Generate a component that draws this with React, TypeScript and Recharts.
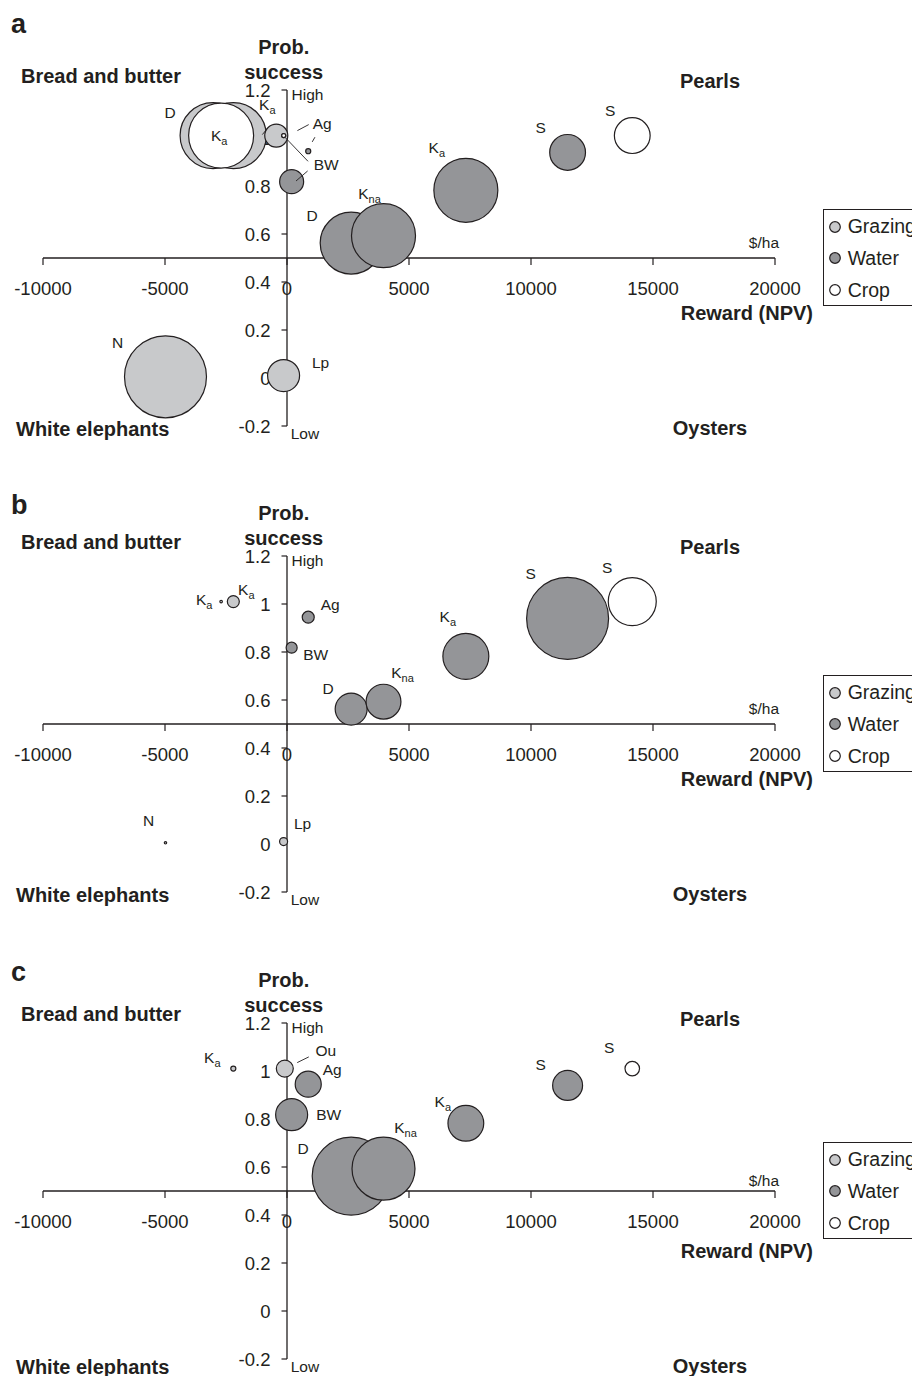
import React from 'react';
import { ScatterChart, Scatter, XAxis, YAxis, ZAxis, ReferenceLine, ReferenceDot, Legend } from 'recharts';

const INK = '#231f20';
const FONT = '"Liberation Sans", Arial, Helvetica, sans-serif';
const FILLS: Record<string, string> = { Grazing: '#c8c9cb', Water: '#949598', Crop: '#ffffff' };
const SERIES = ['Grazing', 'Water', 'Crop'];

// axes
const xTicks = [-10000, -5000, 0, 5000, 10000, 15000, 20000];
const yTicks = [-0.2, 0, 0.2, 0.4, 0.6, 0.8, 1, 1.2];

// grazing options: NPV ($/ha), probability of success, bubble size per panel
const grazingNames = ['D', 'Ka', '', 'Ou', 'N', 'Lp'];
const grazingNpv = [-3030, -2200, -440, -90, -4980, -140];
const grazingProb = [1.01, 1.01, 1.01, 1.01, 0.005, 0.01];
const grazingSizeA = [68, 68, 8.3, null, 105, 16];
const grazingSizeB = [null, 2.25, null, null, 0.09, 1];
const grazingSizeC = [null, 0.4, null, 4.5, null, null];

// water options
const waterNames = ['Ag', 'BW', 'D', 'Kna', 'Ka', 'S'];
const waterNpv = [870, 190, 2630, 3955, 7330, 11500];
const waterProb = [0.945, 0.818, 0.562, 0.593, 0.782, 0.94];
const waterSizeA = [0.4, 9, 60, 64, 64, 20];
const waterSizeB = [2.25, 1.9, 16, 19, 33, 105];
const waterSizeC = [10.6, 16, 95, 62, 20, 14];

// crop options
const cropNames = ['Ka', 'Ag', 'BW', 'S'];
const cropNpv = [-2700, -135, -135, 14150];
const cropProb = [1.01, 1.01, 1.01, 1.01];
const cropSizeA = [66, 0.25, 0.25, 20];
const cropSizeB = [0.1, null, null, 36];
const cropSizeC = [null, null, null, 3.3];

type Row = { name: string; x: number; y: number; z: number };
type Lbl = { dx?: number; dy?: number; leaders?: number[][] };

function rows(names: string[], npv: number[], prob: number[], size: (number | null)[]): Row[] {
  const out: Row[] = [];
  names.forEach((n, i) => {
    const z = size[i];
    if (z != null) out.push({ name: n, x: npv[i], y: prob[i], z });
  });
  return out;
}

// label placement (px from bubble centre)
const labelsA: Record<string, Lbl> = {
  'Grazing D': { dx: -43, dy: -23 },
  'Grazing Ka': { dx: 34, dy: -31, leaders: [[34, -7, 29, -1]] },
  'Grazing N': { dx: -48, dy: -34 },
  'Grazing Lp': { dx: 37, dy: -13 },
  'Crop Ka': { dx: -2, dy: 0 },
  'Crop Ag': { leaders: [[13.7, -5, 25, -11]] },
  'Crop BW': { leaders: [[2, 2.4, 24.3, 25.7]] },
  'Crop S': { dx: -22, dy: -25 },
  'Water Ag': { dx: 14, dy: -28, leaders: [[4, -9.3, 6.7, -14]] },
  'Water BW': { dx: 34.5, dy: -17, leaders: [[4.4, -0.7, 16, -10.7]] },
  'Water D': { dx: -39, dy: -28 },
  'Water Kna': { dx: -14, dy: -42 },
  'Water Ka': { dx: -29, dy: -43 },
  'Water S': { dx: -27, dy: -25 },
};
const labelsB: Record<string, Lbl> = {
  'Grazing Ka': { dx: 13, dy: -12 },
  'Grazing N': { dx: -17, dy: -22 },
  'Grazing Lp': { dx: 19, dy: -18 },
  'Crop Ka': { dx: -17, dy: -2 },
  'Crop S': { dx: -25, dy: -34 },
  'Water Ag': { dx: 22, dy: -13 },
  'Water BW': { dx: 24, dy: 7 },
  'Water D': { dx: -23, dy: -21 },
  'Water Kna': { dx: 19, dy: -29 },
  'Water Ka': { dx: -18, dy: -40 },
  'Water S': { dx: -37, dy: -45 },
};
const labelsC: Record<string, Lbl> = {
  'Grazing Ka': { dx: -21, dy: -11 },
  'Grazing Ou': { dx: 41, dy: -18, leaders: [[12.4, -6, 24, -11.7]] },
  'Crop S': { dx: -23, dy: -21 },
  'Water Ag': { dx: 24, dy: -15 },
  'Water BW': { dx: 37, dy: 0 },
  'Water D': { dx: -48, dy: -28 },
  'Water Kna': { dx: 22, dy: -41 },
  'Water Ka': { dx: -23, dy: -22 },
  'Water S': { dx: -27, dy: -21 },
};

const panels = [
  { letter: 'a', letterY: 33, shift: 0, height: 466, g: grazingSizeA, w: waterSizeA, c: cropSizeA, labels: labelsA },
  { letter: 'b', letterY: 47.5, shift: 0, height: 467, g: grazingSizeB, w: waterSizeB, c: cropSizeB, labels: labelsB },
  { letter: 'c', letterY: 48, shift: 5, height: 466, g: grazingSizeC, w: waterSizeC, c: cropSizeC, labels: labelsC },
];

function BubbleName({ x, y, name }: { x: number; y: number; name: string }) {
  const sub = name.length > 1 && name[0] === 'K';
  return (
    <text x={x} y={y} textAnchor="middle" fontSize={15.5} fill={INK}>
      {sub ? (
        <>
          K<tspan fontSize={11} dy={4}>{name.slice(1)}</tspan>
        </>
      ) : (
        name
      )}
    </text>
  );
}

function bubbleShape(series: string, labels: Record<string, Lbl>) {
  return (p: any) => {
    const { cx, cy } = p;
    const r = p.width != null ? p.width / 2 : Math.sqrt(Math.max(p.size || 0, 0) / Math.PI);
    const name = p.payload?.name ?? '';
    const lbl = labels[`${series} ${name}`];
    return (
      <g>
        <circle cx={cx} cy={cy} r={r} fill={FILLS[series]} stroke={INK} strokeWidth={1.2} />
        {lbl?.leaders?.map((l, i) => (
          <line key={i} x1={cx + l[0]} y1={cy + l[1]} x2={cx + l[2]} y2={cy + l[3]} stroke={INK} strokeWidth={0.9} />
        ))}
        {lbl && lbl.dx != null && name && <BubbleName x={cx + lbl.dx} y={cy + (lbl.dy ?? 0) + 5.5} name={name} />}
      </g>
    );
  };
}

const xTickShape = (t: number) => (p: any) => (
  <g>
    <line x1={p.cx} y1={p.cy} x2={p.cx} y2={p.cy + 7} stroke={INK} strokeWidth={1.2} />
    <text x={p.cx} y={p.cy + 36.5} textAnchor="middle" fontSize={18.5} fill={INK}>
      {t}
    </text>
  </g>
);

const yTickShape = (t: number) => (p: any) => (
  <g>
    <line x1={p.cx - 5.5} y1={p.cy} x2={p.cx} y2={p.cy} stroke={INK} strokeWidth={1.2} />
    <text x={p.cx - 16.5} y={p.cy + 6.6} textAnchor="end" fontSize={18.5} fill={INK}>
      {t}
    </text>
  </g>
);

function LegendBox(props: any) {
  const present: string[] = (props.payload ?? []).map((p: any) => p.value);
  const list = SERIES.filter((s) => present.length === 0 || present.includes(s));
  return (
    <div style={{ border: `1px solid ${INK}`, height: 97, boxSizing: 'border-box', background: '#fff', position: 'relative' }}>
      {list.map((n, i) => (
        <div
          key={n}
          style={{ position: 'absolute', left: 4.6, top: 4.7 + i * 31.7, height: 25, display: 'flex', alignItems: 'center', fontSize: 19.5, color: INK, whiteSpace: 'nowrap' }}
        >
          <svg width={14} height={14} style={{ marginRight: 5.4 }}>
            <circle cx={7} cy={7} r={5.3} fill={FILLS[n]} stroke={INK} strokeWidth={1.2} />
          </svg>
          {n}
        </div>
      ))}
    </div>
  );
}

function Panel({ letter, letterY, shift, height, g, w, c, labels }: any) {
  const grazing = rows(grazingNames, grazingNpv, grazingProb, g);
  const water = rows(waterNames, waterNpv, waterProb, w);
  const crop = rows(cropNames, cropNpv, cropProb, c);
  return (
    <div style={{ width: 912, height }}>
      <ScatterChart width={912} height={466} margin={{ top: 90, right: 137, bottom: 40, left: 43 }}>
        <XAxis type="number" dataKey="x" domain={[-10000, 20000]} hide />
        <YAxis type="number" dataKey="y" domain={[-0.2, 1.2]} hide />
        <ZAxis type="number" dataKey="z" domain={[0, 120]} range={[0, 1920 * Math.PI]} />

        <text x={11} y={letterY} fontSize={27} fontWeight="bold" fill={INK}>{letter}</text>
        <text x={21} y={83 + shift} fontSize={20} fontWeight="bold" fill={INK}>Bread and butter</text>
        <text x={710} y={87.5 + shift} fontSize={20} fontWeight="bold" fill={INK} textAnchor="middle">Pearls</text>
        <text x={16} y={436 + shift} fontSize={20} fontWeight="bold" fill={INK}>White elephants</text>
        <text x={710} y={435 + shift} fontSize={20} fontWeight="bold" fill={INK} textAnchor="middle">Oysters</text>

        <ReferenceLine y={0.5} stroke={INK} strokeWidth={1.3} />
        <ReferenceLine x={0} stroke={INK} strokeWidth={1.3} />
        {xTicks.map((t) => (
          <ReferenceDot key={`x${t}`} x={t} y={0.5} r={0} shape={xTickShape(t)} />
        ))}
        {yTicks.map((t) => (
          <ReferenceDot key={`y${t}`} x={0} y={t} r={0} shape={yTickShape(t)} />
        ))}
        <ReferenceDot
          x={0}
          y={1.2}
          r={0}
          shape={(p: any) => (
            <g fill={INK}>
              <text x={p.cx - 3.3} y={p.cy - 36} fontSize={20} fontWeight="bold" textAnchor="middle">Prob.</text>
              <text x={p.cx - 3.3} y={p.cy - 11.5} fontSize={20} fontWeight="bold" textAnchor="middle">success</text>
              <text x={p.cx + 4.5} y={p.cy + 10} fontSize={15.5}>High</text>
            </g>
          )}
        />
        <ReferenceDot
          x={0}
          y={-0.2}
          r={0}
          shape={(p: any) => (
            <text x={p.cx + 3.7} y={p.cy + 13.3} fontSize={15.5} fill={INK}>Low</text>
          )}
        />
        <ReferenceDot
          x={20000}
          y={0.5}
          r={0}
          shape={(p: any) => (
            <g fill={INK}>
              <text x={p.cx + 4} y={p.cy - 10 + shift} fontSize={15.5} textAnchor="end">$/ha</text>
              <text x={p.cx + 38} y={p.cy + 62 + shift} fontSize={20} fontWeight="bold" textAnchor="end">Reward (NPV)</text>
            </g>
          )}
        />

        <Scatter name="Grazing" data={grazing} fill={FILLS.Grazing} stroke={INK} shape={bubbleShape('Grazing', labels)} isAnimationActive={false} />
        <Scatter name="Water" data={water} fill={FILLS.Water} stroke={INK} shape={bubbleShape('Water', labels)} isAnimationActive={false} />
        <Scatter name="Crop" data={crop} fill={FILLS.Crop} stroke={INK} shape={bubbleShape('Crop', labels)} isAnimationActive={false} />

        <Legend
          layout="vertical"
          align="center"
          verticalAlign="middle"
          content={LegendBox}
          wrapperStyle={{ position: 'absolute', left: 822.7, top: 208.5, width: 130, height: 97 }}
        />
      </ScatterChart>
    </div>
  );
}

export default function App() {
  return (
    <div style={{ width: 912, height: 1376, overflow: 'hidden', fontFamily: FONT, color: INK, background: '#fff', position: 'relative' }}>
      <style>{'body{margin:0}'}</style>
      {panels.map((p) => (
        <Panel key={p.letter} {...p} />
      ))}
    </div>
  );
}
